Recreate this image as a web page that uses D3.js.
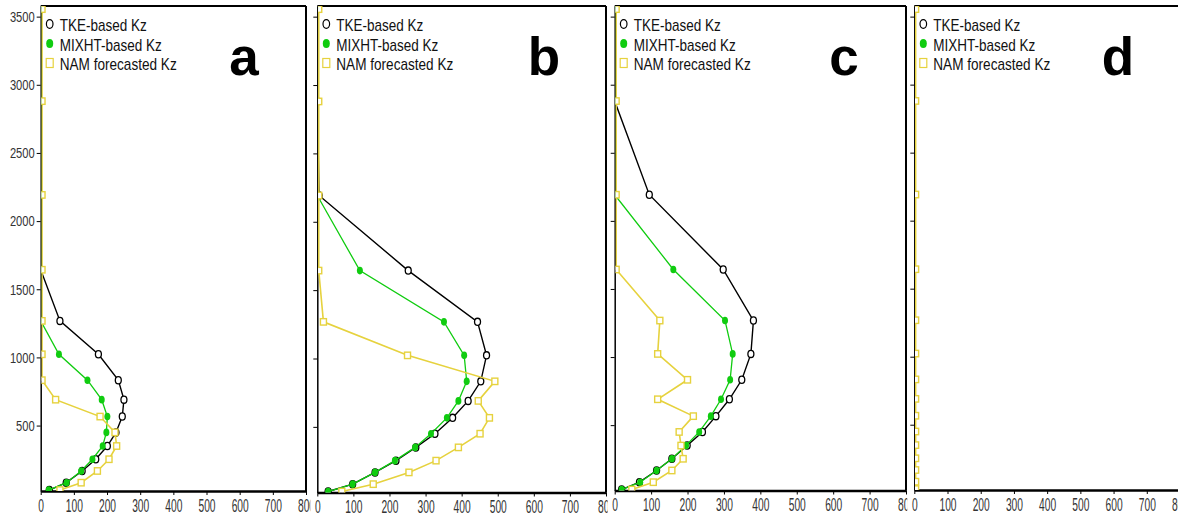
<!DOCTYPE html>
<html>
<head>
<meta charset="utf-8">
<script src="https://cdn.jsdelivr.net/npm/d3@7"></script>
<style>
  body { margin: 0; background: #fff; }
  svg { display: block; }
</style>
</head>
<body>
<div id="chart"></div>
<script>
// model levels (m), shared by the four profiles
var heights = [27, 81, 167, 253, 350, 450, 566, 690, 833, 1023, 1268, 1643, 2192, 2880, 3555];

var xTicks = [0, 100, 200, 300, 400, 500, 600, 700, 800];
var yTicks = [500, 1000, 1500, 2000, 2500, 3000, 3500];

var panelLetters = ["a", "b", "c", "d"];
var seriesNames = ["TKE-based Kz", "MIXHT-based Kz", "NAM forecasted Kz"];

// panel a
var tkeA   = [26, 77, 125, 166, 201, 227, 246, 251, 234, 174, 58, 0, 0, 0, 0];
var mixhtA = [24, 78, 122, 156, 187, 198, 201, 184, 141, 55, 0, 0, 0, 0, 0];
var namA   = [58, 122, 171, 206, 229, 224, 179, 45, 4, 4, 4, 4, 4, 4, 4];

// panel b
var tkeB   = [30, 98, 160, 218, 273, 326, 375, 418, 453, 469, 444, 252, 5, 0, 0];
var mixhtB = [30, 98, 160, 215, 271, 315, 359, 391, 414, 407, 351, 118, 0, 0, 0];
var namB   = [68, 155, 254, 329, 391, 451, 477, 446, 492, 250, 17, 4, 4, 4, 4];

// panel c
var tkeC   = [19, 68, 115, 157, 199, 241, 278, 315, 349, 374, 381, 298, 95, 0, 0];
var mixhtC = [19, 70, 115, 157, 196, 232, 264, 292, 317, 324, 303, 161, 0, 0, 0];
var namC   = [47, 106, 157, 188, 182, 177, 216, 118, 200, 118, 124, 4, 4, 4, 4];

// panel d (only the NAM profile is drawn)
var tkeD   = [];
var mixhtD = [];
var namD   = [4, 4, 4, 4, 4, 4, 4, 4, 4, 4, 4, 4, 4, 4, 4];

var tkeAll = [tkeA, tkeB, tkeC, tkeD];
var mixhtAll = [mixhtA, mixhtB, mixhtC, mixhtD];
var namAll = [namA, namB, namC, namD];

var colors = ["#000000", "#10cc10", "#e6d23e"];

// pixel frame of each panel: left axis, right edge, bottom axis
var panelBox = [
    {left: 40.7, right: 306, bottom: 491},
    {left: 317.3, right: 606, bottom: 492.5},
    {left: 614.7, right: 906, bottom: 490.5},
    {left: 914.3, right: 1180, bottom: 490}
];
var plotTop = 6;

var svg = d3.select("#chart")
    .append("svg")
        .attr("width", 1178)
        .attr("height", 517)
        .style("font-family", "'Liberation Sans', Arial, sans-serif");

var defs = svg.append("defs");

function drawPanel(p) {
    var box = panelBox[p];

    var x = d3.scaleLinear()
        .domain([0, 800])
        .range([box.left, box.right]);
    var y = d3.scaleLinear()
        .domain([20, 3578])
        .range([box.bottom, plotTop]);

    var g = svg.append("g");

    // hides the tail of the previous panel's last x label
    g.append("rect")
        .attr("x", box.left - 7)
        .attr("y", box.bottom + 3)
        .attr("width", box.right - box.left + 7)
        .attr("height", 30)
        .attr("fill", "white");

    // data is clipped just right of the y axis line
    defs.append("clipPath")
        .attr("id", "clip" + p)
      .append("rect")
        .attr("x", box.left + 0.8)
        .attr("y", plotTop)
        .attr("width", box.right - box.left - 0.8)
        .attr("height", box.bottom - plotTop);

    // y axis, labels only on the first panel
    var yAxis = g.append("g")
        .attr("transform", "translate(" + box.left + ",0)")
        .call(d3.axisLeft(y).tickValues(yTicks).tickFormat(d3.format("d"))
            .tickSize(4).tickPadding(2).tickSizeOuter(0));
    yAxis.select(".domain").attr("stroke-width", 1.5);
    yAxis.selectAll("text")
        .attr("fill", "#333")
        .style("font-size", "15px")
        .attr("textLength", function(d) { return String(d).length * 6.2; })
        .attr("lengthAdjust", "spacingAndGlyphs");
    if (p > 0) yAxis.selectAll("text").remove();

    // x axis
    var xAxis = g.append("g")
        .attr("transform", "translate(0," + box.bottom + ")")
        .call(d3.axisBottom(x).tickValues(xTicks).tickSize(4).tickPadding(4).tickSizeOuter(0));
    xAxis.select(".domain").attr("stroke-width", 2.5);
    xAxis.selectAll("text")
        .attr("fill", "#333")
        .style("font-size", "18px")
        .attr("textLength", function(d) { return String(d).length * 5.7; })
        .attr("lengthAdjust", "spacingAndGlyphs");

    // top and right frame
    g.append("line")
        .attr("x1", box.left).attr("x2", box.right)
        .attr("y1", plotTop).attr("y2", plotTop)
        .attr("stroke", "black").attr("stroke-width", 2);
    g.append("line")
        .attr("x1", box.right).attr("x2", box.right)
        .attr("y1", plotTop).attr("y2", box.bottom)
        .attr("stroke", "black").attr("stroke-width", 2);

    var plot = g.append("g").attr("clip-path", "url(#clip" + p + ")");

    var line = d3.line()
        .x(function(d) { return x(d.v); })
        .y(function(d) { return y(d.h); });

    function toPoints(values) {
        return values.map(function(v, i) { return {v: v, h: heights[i]}; });
    }

    // TKE-based: open circles
    var tke = toPoints(tkeAll[p]);
    plot.append("path")
        .datum(tke)
        .attr("fill", "none")
        .attr("stroke", colors[0])
        .attr("stroke-width", 1.4)
        .attr("d", line);
    plot.selectAll(".tke")
        .data(tke)
        .enter().append("ellipse")
        .attr("cx", function(d) { return x(d.v); })
        .attr("cy", function(d) { return y(d.h); })
        .attr("rx", 3)
        .attr("ry", 3.6)
        .attr("fill", "white")
        .attr("stroke", colors[0])
        .attr("stroke-width", 1.3);

    // MIXHT-based: filled dots
    var mix = toPoints(mixhtAll[p]);
    plot.append("path")
        .datum(mix)
        .attr("fill", "none")
        .attr("stroke", colors[1])
        .attr("stroke-width", 1.3)
        .attr("d", line);
    plot.selectAll(".mix")
        .data(mix)
        .enter().append("ellipse")
        .attr("cx", function(d) { return x(d.v); })
        .attr("cy", function(d) { return y(d.h); })
        .attr("rx", 3)
        .attr("ry", 3.8)
        .attr("fill", colors[1]);

    // NAM forecast: open squares
    var nam = toPoints(namAll[p]);
    plot.append("path")
        .datum(nam)
        .attr("fill", "none")
        .attr("stroke", colors[2])
        .attr("stroke-width", 1.6)
        .attr("d", line);
    plot.selectAll(".nam")
        .data(nam)
        .enter().append("rect")
        .attr("x", function(d) { return x(d.v) - 3; })
        .attr("y", function(d) { return y(d.h) - 3.2; })
        .attr("width", 6)
        .attr("height", 6.4)
        .attr("fill", "white")
        .attr("stroke", colors[2])
        .attr("stroke-width", 1.4);

    // legend
    var legendY = [31, 50.5, 70];
    var lx = box.left + 9;
    g.append("ellipse")
        .attr("cx", lx).attr("cy", legendY[0] - 7)
        .attr("rx", 3.3).attr("ry", 4.3)
        .attr("fill", "white").attr("stroke", colors[0]).attr("stroke-width", 1.2);
    g.append("ellipse")
        .attr("cx", lx).attr("cy", legendY[1] - 7)
        .attr("rx", 3.5).attr("ry", 4.5)
        .attr("fill", colors[1]);
    g.append("rect")
        .attr("x", lx - 3.5).attr("y", legendY[2] - 11.5)
        .attr("width", 7).attr("height", 9)
        .attr("fill", "white").attr("stroke", colors[2]).attr("stroke-width", 1.2);

    var legendWidths = [87, 102, 117];
    seriesNames.forEach(function(name, i) {
        g.append("text")
            .attr("x", box.left + 19)
            .attr("y", legendY[i])
            .attr("fill", "#111")
            .style("font-size", "17px")
            .attr("textLength", legendWidths[i])
            .attr("lengthAdjust", "spacingAndGlyphs")
            .text(name);
    });

    // panel letter
    g.append("text")
        .attr("x", box.right - 62)
        .attr("y", 75)
        .attr("text-anchor", "middle")
        .style("font-size", "53px")
        .style("font-weight", "bold")
        .text(panelLetters[p]);
}

for (var p = 0; p < panelBox.length; p++) {
    drawPanel(p);
}
</script>
</body>
</html>
